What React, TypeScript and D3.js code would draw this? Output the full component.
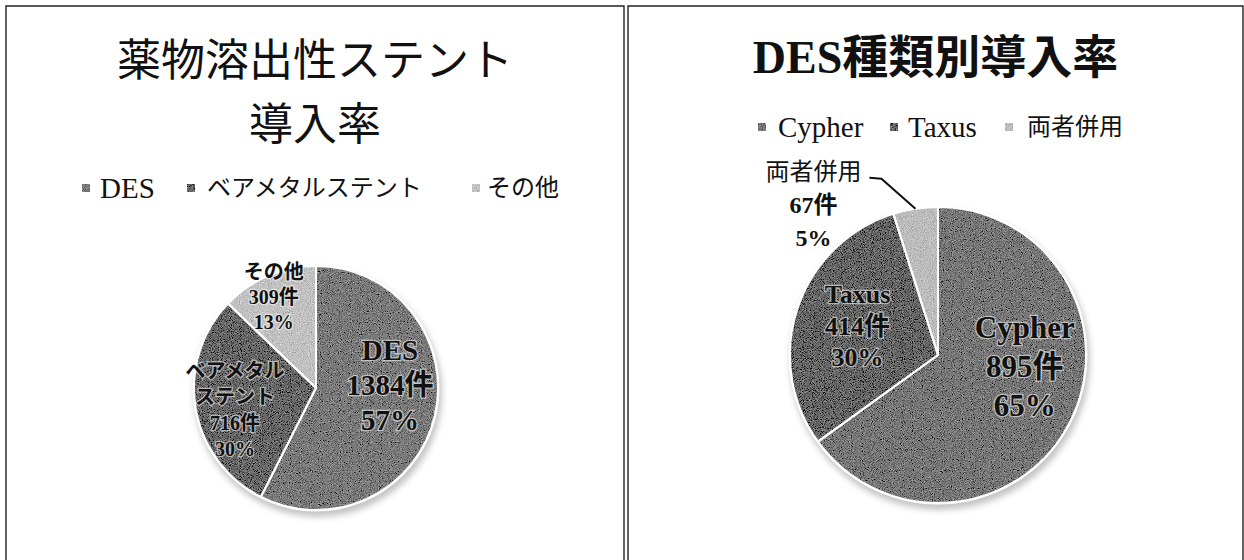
import React from "react";
import * as d3 from "d3";

// ---------- data ----------
const leftTitle = ["薬物溶出性ステント", "導入率"];
const leftCategories = ["DES", "ベアメタルステント", "その他"];
const leftSliceNames = [["DES"], ["ベアメタル", "ステント"], ["その他"]];
const leftValues = [1384, 716, 309];

const rightTitle = ["DES種類別導入率"];
const rightCategories = ["Cypher", "Taxus", "両者併用"];
const rightSliceNames = [["Cypher"], ["Taxus"], ["両者併用"]];
const rightValues = [895, 414, 67];

const countUnit = "件";

// ---------- style / layout ----------
const W = 1244;
const H = 560;
const LATIN = "'Liberation Serif', 'DejaVu Serif', 'Noto Sans CJK JP', serif";
const CJK = "'Noto Sans CJK JP', 'Noto Sans CJK SC', sans-serif";

const leftColors = ["#7b7b7b", "#686868", "#c2c2c2"];
const rightColors = ["#787878", "#676767", "#bdbdbd"];

type LabelCfg = {
  k: number;
  dx: number;
  dy: number;
  size: number;
  lh: number;
  outside?: boolean;
  leaderStart?: [number, number];
  leaderElbow?: [number, number];
  firstWeight?: number;
};

type PanelCfg = {
  x0: number;
  x1: number;
  cx: number;
  cy: number;
  r: number;
  title: string[];
  titleY: number[];
  titleSize: number;
  titleWeight: number;
  titleFamily: string;
  categories: string[];
  sliceNames: string[][];
  values: number[];
  colors: string[];
  legendY: number;
  legendSq: number[];
  legendTx: number[];
  labels: LabelCfg[];
};

const panels: PanelCfg[] = [
  {
    x0: 6,
    x1: 624,
    cx: 316,
    cy: 388,
    r: 122,
    title: leftTitle,
    titleY: [57, 121],
    titleSize: 44,
    titleWeight: 400,
    titleFamily: CJK,
    categories: leftCategories,
    sliceNames: leftSliceNames,
    values: leftValues,
    colors: leftColors,
    legendY: 188,
    legendSq: [82, 187, 472],
    legendTx: [100, 207, 487],
    labels: [
      { k: 0.59, dx: 4, dy: -20, size: 29, lh: 35 },
      { k: 0.69, dx: 2, dy: 8, size: 20, lh: 26 },
      { k: 0.82, dx: -3, dy: 1, size: 20, lh: 25 },
    ],
  },
  {
    x0: 628,
    x1: 1243,
    cx: 938,
    cy: 355,
    r: 148,
    title: rightTitle,
    titleY: [57],
    titleSize: 46,
    titleWeight: 700,
    titleFamily: LATIN,
    categories: rightCategories,
    sliceNames: rightSliceNames,
    values: rightValues,
    colors: rightColors,
    legendY: 127,
    legendSq: [758, 890, 1005],
    legendTx: [778, 908, 1027],
    labels: [
      { k: 0.59, dx: 9, dy: -28, size: 31, lh: 39 },
      { k: 0.58, dx: 1, dy: -2, size: 26, lh: 31.5 },
      {
        k: 1.0,
        dx: -102,
        dy: -4,
        size: 24,
        lh: 33,
        outside: true,
        leaderStart: [56, -27],
        leaderElbow: [68, -26],
        firstWeight: 400,
      },
    ],
  },
];

const hasCJK = (s: string) => /[\u3040-\u30ff\u3400-\u9fff]/.test(s);

function Panel({ p }: { p: PanelCfg }) {
  const total = d3.sum(p.values);
  const pie = d3
    .pie<number>()
    .sort(null)
    .value((d) => d)
    .startAngle(0)
    .endAngle(2 * Math.PI);
  const arcs = pie(p.values);
  const arc = d3.arc<d3.PieArcDatum<number>>().innerRadius(0).outerRadius(p.r);

  return (
    <g>
      {/* frame */}
      <path
        d={`M${p.x0},${H + 5} V6 H${p.x1} V${H + 5}`}
        fill="none"
        stroke="#222"
        strokeWidth={1.4}
      />
      {/* title */}
      {p.title.map((t, i) => (
        <text
          key={i}
          x={(p.x0 + p.x1) / 2}
          y={p.titleY[i]}
          textAnchor="middle"
          dominantBaseline="central"
          fontFamily={p.titleFamily}
          fontWeight={p.titleWeight}
          fontSize={p.titleSize}
          fill="#111"
        >
          {t}
        </text>
      ))}
      {/* legend */}
      {p.categories.map((c, i) => (
        <g key={c}>
          <rect
            x={p.legendSq[i]}
            y={p.legendY - 4}
            width={8}
            height={8}
            fill={p.colors[i]}
            filter="url(#grain)"
          />
          <text
            x={p.legendTx[i]}
            y={p.legendY}
            dominantBaseline="central"
            fontFamily={LATIN}
            fontSize={hasCJK(c) ? 24 : 29}
            fill="#111"
          >
            {c}
          </text>
        </g>
      ))}
      {/* shadow */}
      <circle
        cx={p.cx + 2}
        cy={p.cy + 5}
        r={p.r + 2}
        fill="#b0b0b0"
        opacity={0.75}
        filter="url(#soft)"
      />
      <circle cx={p.cx} cy={p.cy} r={p.r + 1.5} fill="#ffffff" />
      {/* slices */}
      <g transform={`translate(${p.cx},${p.cy})`}>
        <g filter="url(#grain)">
          {arcs.map((a, i) => (
            <path key={i} d={arc(a) || ""} fill={p.colors[i]} />
          ))}
        </g>
        {arcs.map((a, i) => (
          <path
            key={"s" + i}
            d={arc(a) || ""}
            fill="none"
            stroke="#ffffff"
            strokeWidth={2}
            strokeLinejoin="round"
          />
        ))}
      </g>
      {/* labels */}
      {arcs.map((a, i) => {
        const cfg = p.labels[i];
        const la = d3
          .arc<d3.PieArcDatum<number>>()
          .innerRadius(p.r * cfg.k)
          .outerRadius(p.r * cfg.k);
        const [ccx, ccy] = la.centroid(a);
        const lx = p.cx + ccx + cfg.dx;
        const ly = p.cy + ccy + cfg.dy;
        const pct = Math.round((p.values[i] / total) * 100);
        const lines = [...p.sliceNames[i], `${p.values[i]}${countUnit}`, `${pct}%`];
        const n = lines.length;
        let leader = null;
        if (cfg.outside && cfg.leaderStart && cfg.leaderElbow) {
          const ea = d3
            .arc<d3.PieArcDatum<number>>()
            .innerRadius(p.r)
            .outerRadius(p.r);
          const [ex, ey] = ea.centroid(a);
          const pts: [number, number][] = [
            [lx + cfg.leaderStart[0], ly + cfg.leaderStart[1]],
            [lx + cfg.leaderElbow[0], ly + cfg.leaderElbow[1]],
            [p.cx + ex, p.cy + ey],
          ];
          leader = (
            <path
              d={d3.line()(pts) || ""}
              fill="none"
              stroke="#111"
              strokeWidth={2}
            />
          );
        }
        return (
          <g key={"l" + i}>
            {leader}
            {lines.map((t, j) => (
              <text
                key={j}
                x={lx}
                y={ly + (j - (n - 1) / 2) * cfg.lh}
                textAnchor="middle"
                dominantBaseline="central"
                fontFamily={LATIN}
                fontWeight={j === 0 && cfg.firstWeight ? cfg.firstWeight : 700}
                fontSize={cfg.size}
                fill="#111"
                stroke={cfg.outside ? "none" : "#ffffff"}
                strokeOpacity={0.55}
                strokeWidth={2.5}
                paintOrder="stroke"
              >
                {t}
              </text>
            ))}
          </g>
        );
      })}
    </g>
  );
}

export default function App() {
  return (
    <svg
      width={W}
      height={H}
      viewBox={`0 0 ${W} ${H}`}
      style={{ position: "absolute", left: 0, top: 0, background: "#ffffff" }}
    >
      <defs>
        <filter id="grain" x="-5%" y="-5%" width="110%" height="110%">
          <feTurbulence
            type="fractalNoise"
            baseFrequency="1.1"
            numOctaves="1"
            seed="7"
            result="noise"
          />
          <feColorMatrix
            in="noise"
            type="matrix"
            values="0.33 0.33 0.33 0 0  0.33 0.33 0.33 0 0  0.33 0.33 0.33 0 0  0 0 0 0 1"
            result="gray"
          />
          <feComposite
            in="SourceGraphic"
            in2="gray"
            operator="arithmetic"
            k1="0"
            k2="1"
            k3="1.3"
            k4="-0.65"
            result="mix"
          />
          <feComposite in="mix" in2="SourceGraphic" operator="in" />
        </filter>
        <filter id="soft" x="-20%" y="-20%" width="140%" height="140%">
          <feGaussianBlur stdDeviation="3" />
        </filter>
      </defs>
      <rect x={0} y={0} width={W} height={H} fill="#ffffff" />
      {panels.map((p, i) => (
        <Panel key={i} p={p} />
      ))}
    </svg>
  );
}
